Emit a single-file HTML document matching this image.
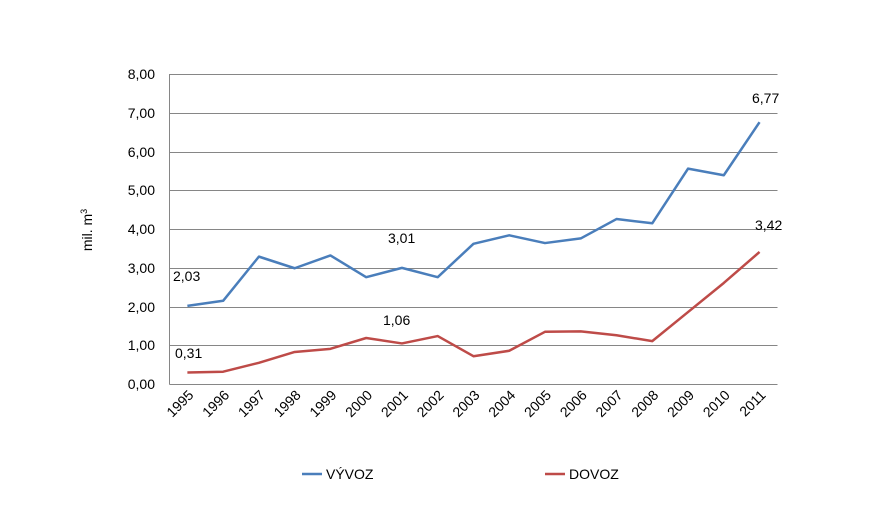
<!DOCTYPE html>
<html><head><meta charset="utf-8"><style>body{margin:0;background:#fff}svg{display:block}text{font-family:"Liberation Sans",sans-serif;font-size:14px;fill:#000}</style></head><body>
<svg width="892" height="531" xmlns="http://www.w3.org/2000/svg">
<g stroke="#868686" stroke-width="1">
<line x1="169.5" y1="74.5" x2="777.5" y2="74.5"/>
<line x1="169.5" y1="113.5" x2="777.5" y2="113.5"/>
<line x1="169.5" y1="152.5" x2="777.5" y2="152.5"/>
<line x1="169.5" y1="190.5" x2="777.5" y2="190.5"/>
<line x1="169.5" y1="229.5" x2="777.5" y2="229.5"/>
<line x1="169.5" y1="268.5" x2="777.5" y2="268.5"/>
<line x1="169.5" y1="307.5" x2="777.5" y2="307.5"/>
<line x1="169.5" y1="345.5" x2="777.5" y2="345.5"/>
<line x1="169.5" y1="384.5" x2="777.5" y2="384.5"/>
<line x1="169.5" y1="74" x2="169.5" y2="384.5"/>
</g>
<g text-anchor="end">
<text x="155" y="79">8,00</text><text x="155" y="118">7,00</text><text x="155" y="157">6,00</text><text x="155" y="195">5,00</text><text x="155" y="234">4,00</text><text x="155" y="273">3,00</text><text x="155" y="312">2,00</text><text x="155" y="350">1,00</text><text x="155" y="389">0,00</text>
</g>
<text transform="translate(92,230) rotate(-90)" text-anchor="middle">mil. m<tspan font-size="9" dy="-5">3</tspan></text>
<g text-anchor="end" id="yrs"></g>
<polyline fill="none" stroke="#4A7EBB" stroke-width="2.5" stroke-linejoin="round" id="v"/>
<polyline fill="none" stroke="#BE4B48" stroke-width="2.5" stroke-linejoin="round" id="d"/>
<text x="173" y="281">2,03</text><text x="175" y="358">0,31</text>
<text x="388" y="243">3,01</text><text x="383" y="325">1,06</text>
<text x="752" y="103">6,77</text><text x="755" y="230">3,42</text>
<line x1="302" y1="474" x2="322" y2="474" stroke="#4A7EBB" stroke-width="2.5"/>
<text x="326" y="479">VÝVOZ</text>
<line x1="545" y1="474" x2="565" y2="474" stroke="#BE4B48" stroke-width="2.5"/>
<text x="569" y="479">DOVOZ</text>
</svg>
<script>
var V=[2.03,2.16,3.30,3.00,3.33,2.77,3.01,2.77,3.63,3.85,3.65,3.77,4.27,4.16,5.57,5.40,6.77];
var D=[0.31,0.33,0.56,0.84,0.92,1.20,1.06,1.25,0.73,0.87,1.36,1.37,1.27,1.12,1.87,2.62,3.42];
function X(i){return 169.5+35.76*(i+0.5)}function Y(v){return 384.5-38.75*v}
document.getElementById('v').setAttribute('points',V.map(function(v,i){return X(i)+','+Y(v)}).join(' '));
document.getElementById('d').setAttribute('points',D.map(function(v,i){return X(i)+','+Y(v)}).join(' '));
var g=document.getElementById('yrs'),s='';
for(var i=0;i<17;i++){var x=X(i)+7,y=396;s+='<text x="'+x+'" y="'+y+'" transform="rotate(-45 '+x+' '+y+')">'+(1995+i)+'</text>';}
g.innerHTML=s;
</script>
</body></html>
